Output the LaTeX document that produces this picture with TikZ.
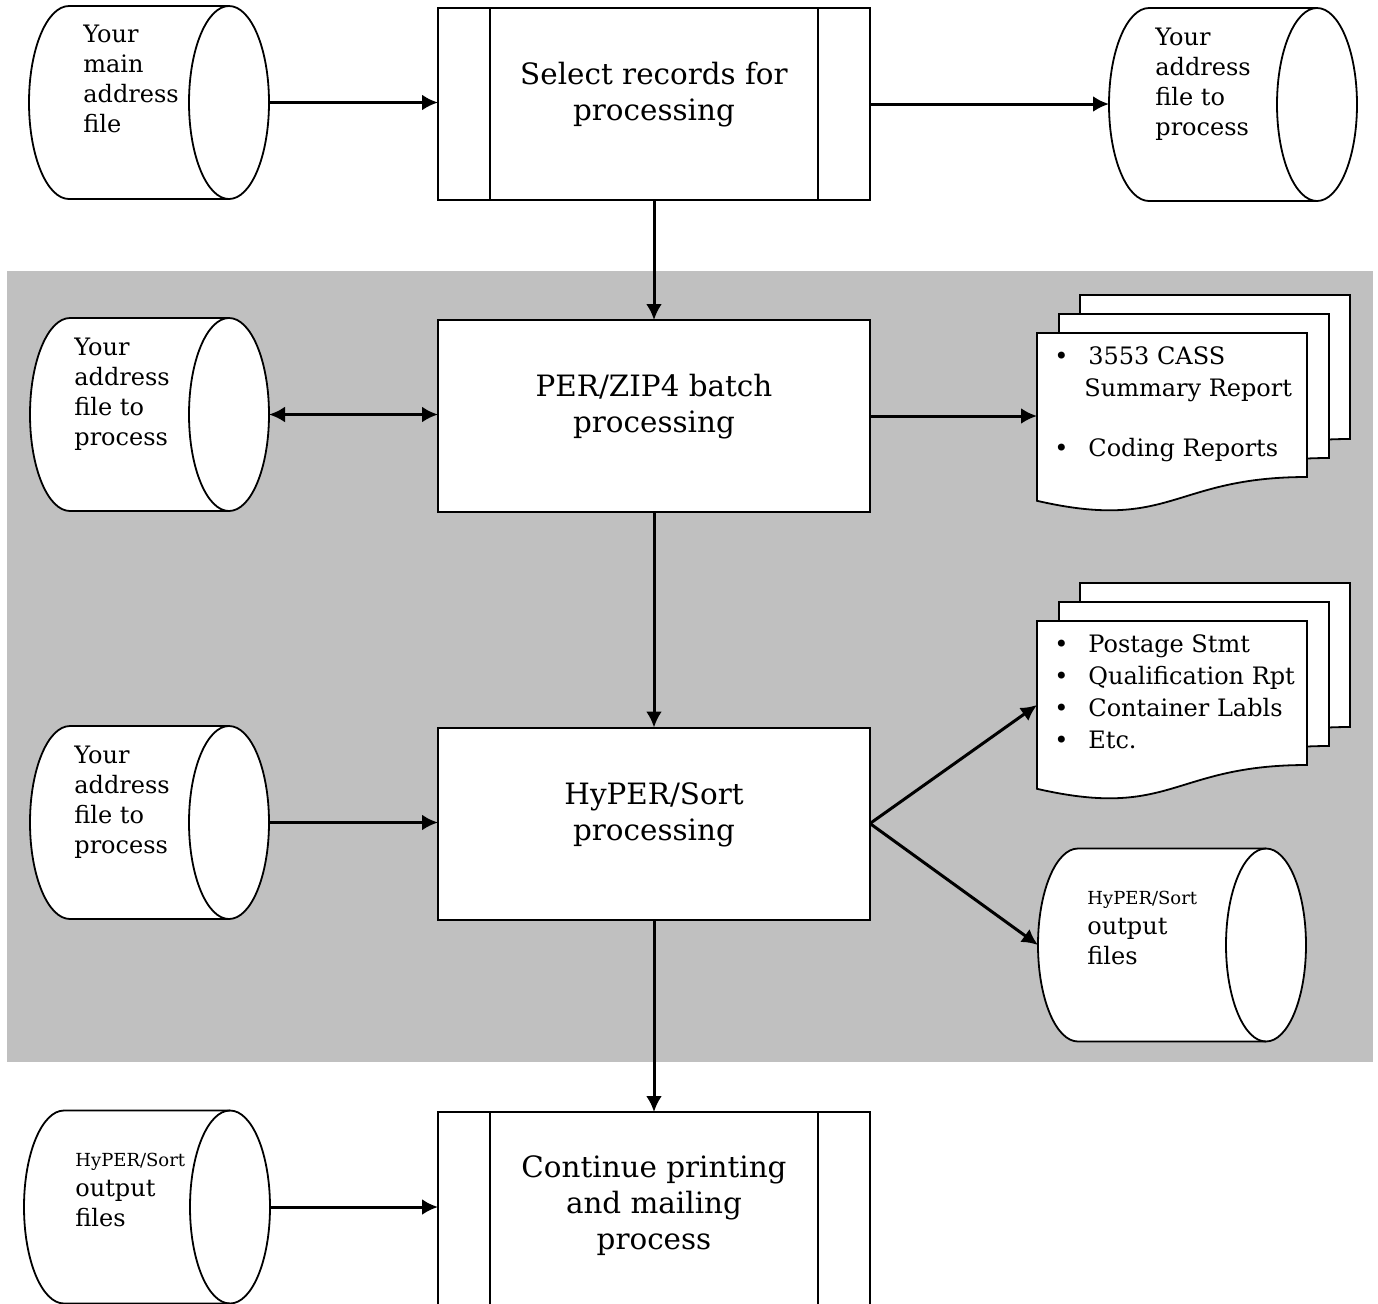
\documentclass[tikz,border=0pt]{standalone}
\usepackage{fontspec}
\setmainfont{DejaVu Serif}
\usetikzlibrary{arrows.meta}
\definecolor{bggray}{HTML}{C0C0C0}
\newcommand{\procfont}{\fontsize{14.7}{18}\selectfont}
\newcommand{\drumfont}{\fontsize{12}{15}\selectfont}
\newcommand{\docfont}{\fontsize{12}{16}\selectfont}
\newcommand{\labelfont}{\fontsize{9}{11}\selectfont}
\newcommand{\bul}{\makebox[17pt][l]{\textbullet}}
\newcommand{\drawdrum}[1]{%
  \draw [line width=0.9pt,fill=white] ([xshift=20pt]#1.north west) -- ([xshift=-20pt]#1.north east)
    arc [start angle=90,end angle=-90,x radius=20pt,y radius=48.25pt]
    -- ([xshift=20pt]#1.south west)
    arc [start angle=270,end angle=90,x radius=20pt,y radius=48.25pt] -- cycle;
  \draw [line width=0.9pt] ([xshift=-20pt]#1.north east)
    arc [start angle=90,end angle=270,x radius=20pt,y radius=48.25pt];
}
\newcommand{\drawdoc}[1]{%
  \draw [line width=0.9pt,fill=white] (#1.north west) -- (#1.north east) -- (#1.south east)
    .. controls (#1.south) and ([yshift=-27.4pt]#1.south) .. ([yshift=-11.9pt]#1.south west) -- cycle;
}
\newcommand{\sidebars}[1]{%
  \draw [line width=1pt] ([xshift=26pt]#1.north west) -- ([xshift=26pt]#1.south west);
  \draw [line width=1pt] ([xshift=-26pt]#1.north east) -- ([xshift=-26pt]#1.south east);
}
\tikzset{
  procbox/.style={rectangle,draw,fill=white,line width=1pt,inner sep=0pt,outer sep=0pt,minimum width=216pt,minimum height=96pt},
  proctext/.style={align=center,inner sep=0pt,font=\procfont},
  drum/.style={rectangle,inner sep=0pt,outer sep=0pt,minimum height=96.5pt},
  drumtext/.style={anchor=north west,align=left,inner sep=0pt,font=\drumfont},
  docpage/.style={rectangle,inner sep=0pt,outer sep=0pt,minimum width=135pt,minimum height=72pt},
  doctext/.style={anchor=north west,align=left,inner sep=0pt,font=\docfont},
  flow/.style={->,line width=1.5pt},
}
\begin{document}
\begin{tikzpicture}[>={Latex[length=8pt,width=8pt]},line join=miter,x=0.5pt,y=-0.5pt]
%%
\useasboundingbox (0,0) rectangle (1378,1303);
\clip (0,0) rectangle (1378,1303);
\fill [bggray] (7,271) rectangle (1373,1062);
%
\node (select) [procbox] at (654,104) {};
  \node (batch) [procbox] at (654,416) {};
  \node (sort) [procbox] at (654,823.5) {};
  \node (cont) [procbox,minimum height=102pt] at (654,1214) {};
  \sidebars{select}
  \sidebars{cont}
  \node (selecttxt) [proctext] at ([yshift=4.5pt]select.center) {Select records for\\processing};
  \node (batchtxt) [proctext] at ([yshift=4.5pt]batch.center) {PER/ZIP4 batch\\processing};
  \node (sorttxt) [proctext] at ([yshift=4.5pt]sort.center) {HyPER/Sort\\processing};
  \node (conttxt) [proctext] at ([yshift=4pt]cont.center) {Continue printing\\and mailing\\process};
%
\node (mainfile) [drum,minimum width=120pt] at (149,102.5) {};
  \node (selfile) [drum,minimum width=124pt] at (1233,104.5) {};
  \node (batchfile) [drum,minimum width=119.5pt] at (149.5,414.5) {};
  \node (sortfile) [drum,minimum width=119.5pt] at (149.5,822.5) {};
  \node (outfile) [drum,minimum width=134pt] at (1172,945) {};
  \node (outfile2) [drum,minimum width=123pt] at (147,1207) {};
  \drawdrum{mainfile}
  \drawdrum{selfile}
  \drawdrum{batchfile}
  \drawdrum{sortfile}
  \drawdrum{outfile}
  \drawdrum{outfile2}
  \node (mainfiletxt) [drumtext] at (83,25) {Your\\main\\address\\file};
  \node (selfiletxt) [drumtext] at (1155,28) {Your\\address\\file to\\process};
  \node (batchfiletxt) [drumtext] at (74,338) {Your\\address\\file to\\process};
  \node (sortfiletxt) [drumtext] at (74,746) {Your\\address\\file to\\process};
  \node (outfiletxt) [drumtext] at (1087,891) {{\labelfont HyPER/Sort}\\output\\files};
  \node (outfile2txt) [drumtext] at (75,1153) {{\labelfont HyPER/Sort}\\output\\files};
%
\node (rpt1back) [docpage] at (1215,367) {};
  \node (rpt1mid) [docpage] at (1194,386) {};
  \node (rpt1) [docpage] at (1172,405) {};
  \node (rpt2back) [docpage] at (1215,655) {};
  \node (rpt2mid) [docpage] at (1194,674) {};
  \node (rpt2) [docpage] at (1172,693) {};
  \drawdoc{rpt1back}
  \drawdoc{rpt1mid}
  \drawdoc{rpt1}
  \drawdoc{rpt2back}
  \drawdoc{rpt2mid}
  \drawdoc{rpt2}
  \node (rpt1txt) [doctext] at (1054,346) {\bul 3553 CASS\\\hspace{15pt}Summary Report\\[14pt]\bul Coding Reports};
  \node (rpt2txt) [doctext] at (1054,634) {\bul Postage Stmt\\\bul Qualification Rpt\\\bul Container Labls\\\bul Etc.};
%
\draw [flow] (mainfile.east) -- (mainfile.east -| select.west);
  \draw [flow] (select.east) -- (select.east -| selfile.west);
  \draw [flow] (select.south) -- (batch.north);
  \draw [flow,<->] (batchfile.east) -- (batchfile.east -| batch.west);
  \draw [flow] (batch.east) -- (batch.east -| rpt1.west);
  \draw [flow] (batch.south) -- (sort.north);
  \draw [flow] (sortfile.east) -- (sortfile.east -| sort.west);
  \draw [flow] (sort.east) -- ([yshift=-6pt]rpt2.west);
  \draw [flow] (sort.east) -- (outfile.west);
  \draw [flow] (sort.south) -- (cont.north);
  \draw [flow] (outfile2.east) -- (outfile2.east -| cont.west);
%
\end{tikzpicture}
\end{document}
